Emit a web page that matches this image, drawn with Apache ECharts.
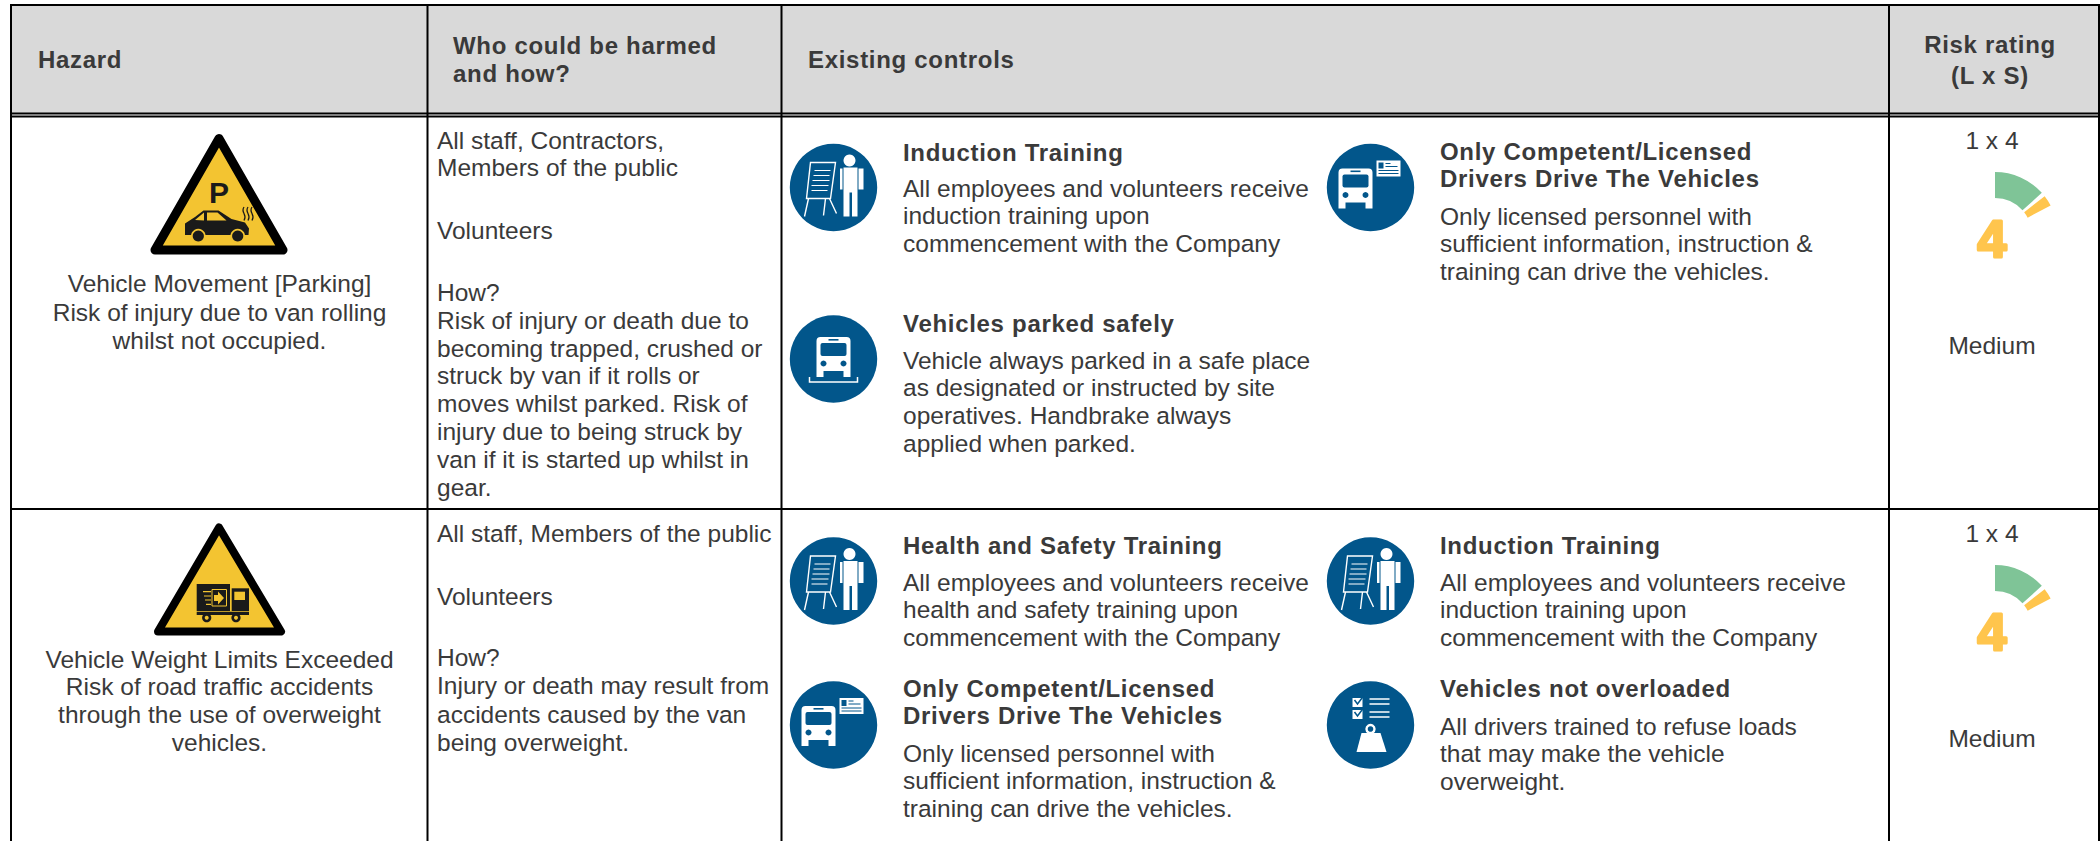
<!DOCTYPE html>
<html>
<head>
<meta charset="utf-8">
<title>Risk assessment</title>
<script src="https://cdn.jsdelivr.net/npm/echarts@6/dist/echarts.min.js"></script>
<style>
html, body { margin: 0; background: #fff; }
#chart { width: 2100px; height: 841px; }
/* zrender has no letter spacing option, headings in the original are spaced out */
#chart svg text { stroke-linejoin: round; }
#chart svg text[style*="bold 24px"] { letter-spacing: 0.7px; }
</style>
</head>
<body>
<div id="chart"></div>
<script>
const headerCells = [
  { lines: ['Hazard'], x: 38, ys: [59] },
  { lines: ['Who could be harmed', 'and how?'], x: 453, ys: [45, 73] },
  { lines: ['Existing controls'], x: 808, ys: [59] },
  { lines: ['Risk rating', '(L x S)'], x: 1990, ys: [44, 75], center: true }
]
const hazardText = [
  ['Vehicle Movement [Parking]', 'Risk of injury due to van rolling', 'whilst not occupied.'],
  ['Vehicle Weight Limits Exceeded', 'Risk of road traffic accidents', 'through the use of overweight', 'vehicles.']
]
const hazardTextY = [[283, 312, 340], [659, 686, 714, 742]]
const whoText = [
  ['All staff, Contractors,', 'Members of the public', 'Volunteers', 'How?', 'Risk of injury or death due to', 'becoming trapped, crushed or', 'struck by van if it rolls or', 'moves whilst parked. Risk of', 'injury due to being struck by', 'van if it is started up whilst in', 'gear.'],
  ['All staff, Members of the public', 'Volunteers', 'How?', 'Injury or death may result from', 'accidents caused by the van', 'being overweight.']
]
const whoTextY = [
  [140, 167, 230, 292, 320, 348, 375, 403, 431, 459, 487],
  [533, 596, 657, 685, 714, 742]
]
const controls = [
  { icon: 'training', col: 0, row: 187.5, head: ['Induction Training'], headY: 152, body: ['All employees and volunteers receive', 'induction training upon', 'commencement with the Company'], bodyY: 188 },
  { icon: 'licence', col: 1, row: 187.5, head: ['Only Competent/Licensed', 'Drivers Drive The Vehicles'], headY: 151, body: ['Only licensed personnel with', 'sufficient information, instruction &', 'training can drive the vehicles.'], bodyY: 216 },
  { icon: 'parked', col: 0, row: 359, head: ['Vehicles parked safely'], headY: 323, body: ['Vehicle always parked in a safe place', 'as designated or instructed by site', 'operatives. Handbrake always', 'applied when parked.'], bodyY: 360 },
  { icon: 'training', col: 0, row: 581, head: ['Health and Safety Training'], headY: 545, body: ['All employees and volunteers receive', 'health and safety training upon', 'commencement with the Company'], bodyY: 582 },
  { icon: 'training', col: 1, row: 581, head: ['Induction Training'], headY: 545, body: ['All employees and volunteers receive', 'induction training upon', 'commencement with the Company'], bodyY: 582 },
  { icon: 'licence', col: 0, row: 725, head: ['Only Competent/Licensed', 'Drivers Drive The Vehicles'], headY: 688, body: ['Only licensed personnel with', 'sufficient information, instruction &', 'training can drive the vehicles.'], bodyY: 753 },
  { icon: 'weight', col: 1, row: 725, head: ['Vehicles not overloaded'], headY: 688, body: ['All drivers trained to refuse loads', 'that may make the vehicle', 'overweight.'], bodyY: 726 }
]
const riskFormula = ['1 x 4', '1 x 4']
const riskLabel = ['Medium', 'Medium']
const riskScore = [4, 4]
// gauge bands, in degrees of sweep from 12 o'clock
const gaugeBandNames = ['Low', 'gap', 'Medium', 'rest']
const gaugeBandValues = [48, 4, 10, 298]
const gaugeBandColors = ['#7fc497', 'transparent', '#ffc54d', 'transparent']

const textColor = '#3a3a3a'
const blue = '#02568b'
const yellow = '#f3c431'
const fontFamily = '"Liberation Sans"'

function text(x, y, str, opts) {
  opts = opts || {}
  return {
    type: 'text', x: x, y: y, silent: true,
    style: {
      text: str,
      fill: textColor,
      font: (opts.bold ? 'bold 24px ' : '24.5px ') + fontFamily,
      textAlign: opts.center ? 'center' : 'left',
      textVerticalAlign: 'middle'
    }
  }
}
function rect(x, y, w, h, fill) {
  return { type: 'rect', silent: true, shape: { x: x, y: y, width: w, height: h }, style: { fill: fill } }
}
function dot(x, y, r, fill) {
  return { type: 'circle', silent: true, shape: { cx: x, cy: y, r: r }, style: { fill: fill } }
}
// graphic component has no plain path type, so each path gets registered as a shape
let pathCount = 0
function path(x, y, d, style) {
  const name = 'iconPath' + pathCount++
  echarts.graphic.registerShape(name, echarts.graphic.extendPath(d, {}))
  return { type: name, silent: true, x: x, y: y, style: style }
}

function busShape(x, y) {
  const els = []
  els.push(path(x, y, 'M-17 -18Q-17 -22 -13 -22H13Q17 -22 17 -18V18H10V12H-10V18H-17Z', { fill: '#fff' }))
  els.push(path(x, y, 'M-11 -16H11Q13 -16 13 -14V-5Q13 -3 11 -3H-11Q-13 -3 -13 -5V-14Q-13 -16 -11 -16Z', { fill: blue }))
  els.push(rect(x - 5, y - 20, 10, 1.6, blue))
  els.push(dot(x - 10, y + 4.5, 3, blue))
  els.push(dot(x + 10, y + 4.5, 3, blue))
  return els
}

const icons = {
  training: function (x, y) {
    const thin = { stroke: '#fff', lineWidth: 1.4, fill: 'none' }
    return [
      dot(x + 16, y - 27, 6, '#fff'),
      path(x, y, 'M10 -20H24V29H18.5V5H16V29H10Z', { fill: '#fff' }),
      path(x, y, 'M6.5 -19H9V2H6.5ZM25 -19H30V2H25Z', { fill: '#fff' }),
      path(x, y, 'M-23 -25H2L-3 11H-27Z', thin),
      path(x, y, 'M-19 -17H-3M-20 -12H-4M-21 -7H-4M-22 -2H-5M-22 3H-6', { stroke: '#fff', lineWidth: 1, fill: 'none' }),
      path(x, y, 'M-25 11L-29 29M-8 11L-10 28M-4 11L3 26', thin)
    ]
  },
  parked: function (x, y) {
    return busShape(x, y).concat([
      path(x, y, 'M-24 18V23H24V18', { stroke: '#fff', lineWidth: 1.5, fill: 'none' })
    ])
  },
  licence: function (x, y) {
    return busShape(x - 15, y + 3).concat([
      rect(x + 6, y - 27, 24, 16, '#fff'),
      rect(x + 8, y - 25, 5, 6, blue),
      path(x, y, 'M15 -24H20M15 -21H27M8 -17H28M8 -14H28', { stroke: blue, lineWidth: 1, fill: 'none' })
    ])
  },
  weight: function (x, y) {
    const checks = 'M-16 -25L-13 -21L-7 -29M-16 -13L-13 -9L-7 -17'
    return [
      rect(x - 18, y - 27, 10, 9, '#fff'),
      rect(x - 18, y - 15, 10, 9, '#fff'),
      path(x, y, checks, { stroke: blue, lineWidth: 1.5, fill: 'none' }),
      path(x, y, 'M-1 -26H19M-1 -21H19M-1 -13H19M-1 -8H19', { stroke: '#fff', lineWidth: 1.3, fill: 'none' }),
      { type: 'circle', silent: true, shape: { cx: x, cy: y + 4, r: 4 }, style: { stroke: '#fff', lineWidth: 2.4, fill: 'none' } },
      path(x, y, 'M-9 8H10L16 27H-14Z', { fill: '#fff' })
    ]
  }
}

function carSign() {
  const ox = 130, oy = 120
  return [
    path(0, 0, 'M219 138.5L283 250H155Z', { fill: yellow, stroke: '#000', lineWidth: 9, lineJoin: 'round' }),
    { type: 'text', silent: true, x: 219, y: 192, style: { text: 'P', fill: '#1a1a1a', font: 'bold 30px ' + fontFamily, textAlign: 'center', textVerticalAlign: 'middle' } },
    path(ox, oy, 'M55 115V103.5L65 97L73.5 90.5H88.5L101.5 99L115 102.5L119 108.5L118.5 115Z', { fill: '#1a1a1a' }),
    path(ox, oy, 'M65 100L74 92.5V100.5ZM77 92.5H87.5L96.5 100.5H77Z', { fill: yellow }),
    dot(ox + 68.3, oy + 116, 7.3, yellow), dot(ox + 68.3, oy + 116, 5.6, '#1a1a1a'),
    dot(ox + 107.7, oy + 116, 7.3, yellow), dot(ox + 107.7, oy + 116, 5.6, '#1a1a1a'),
    path(ox, oy, 'M114 87Q112 90 114 93.5T114 100.5M118 87Q116 90 118 93.5T118 100.5M122 87Q120 90 122 93.5T122 100.5', { stroke: '#1a1a1a', lineWidth: 1.3, fill: 'none' })
  ]
}
function truckSign() {
  const ox = 130, oy = 510
  return [
    path(0, 0, 'M219 527.5L281 631.5H158Z', { fill: yellow, stroke: '#000', lineWidth: 8, lineJoin: 'round' }),
    rect(ox + 66.7, oy + 74, 33.3, 27, '#1a1a1a'),
    path(ox, oy, 'M82 79.5H96.5V96H82Z', { stroke: yellow, lineWidth: 1, fill: 'none' }),
    path(ox, oy, 'M84 85H88V81.5L94 88L88 94.5V91H84Z', { fill: yellow }),
    path(ox, oy, 'M73 81.7H81M74 86H81M75 90H81M76 94.3H81', { stroke: yellow, lineWidth: 1.2, fill: 'none' }),
    rect(ox + 101.7, oy + 78.3, 17.3, 22.7, '#1a1a1a'),
    rect(ox + 104.3, oy + 81.7, 10.7, 8.3, yellow),
    rect(ox + 66.7, oy + 101.7, 52.3, 3.3, '#1a1a1a'),
    dot(ox + 76.7, oy + 107.7, 4.6, '#1a1a1a'), dot(ox + 76.7, oy + 107.7, 2, yellow),
    dot(ox + 106, oy + 107.7, 4.6, '#1a1a1a'), dot(ox + 106, oy + 107.7, 2, yellow)
  ]
}

const elements = []
// header band and table rules
elements.push(rect(10, 5, 2089, 108, '#d9d9d9'))
elements.push(rect(10, 4, 2090, 2, '#000'))
elements.push(rect(10, 112.5, 2090, 2, '#000'))
elements.push(rect(10, 115.5, 2090, 2, '#000'))
elements.push(rect(10, 508, 2090, 2, '#000'))
;[10, 426.5, 780.5, 1888, 2098].forEach(function (x) {
  elements.push(rect(x, 4, 2, 837, '#000'))
})

headerCells.forEach(function (cell) {
  cell.lines.forEach(function (line, i) {
    elements.push(text(cell.x, cell.ys[i], line, { bold: true, center: cell.center }))
  })
})
hazardText.forEach(function (lines, r) {
  lines.forEach(function (line, i) {
    elements.push(text(219.5, hazardTextY[r][i], line, { center: true }))
  })
})
whoText.forEach(function (lines, r) {
  lines.forEach(function (line, i) {
    elements.push(text(437, whoTextY[r][i], line))
  })
})
Array.prototype.push.apply(elements, carSign())
Array.prototype.push.apply(elements, truckSign())

controls.forEach(function (c) {
  const cx = c.col ? 1370.5 : 833.5
  const tx = c.col ? 1440 : 903
  elements.push(dot(cx, c.row, 43.7, blue))
  Array.prototype.push.apply(elements, icons[c.icon](cx, c.row))
  c.head.forEach(function (line, i) {
    elements.push(text(tx, c.headY + i * 27, line, { bold: true }))
  })
  c.body.forEach(function (line, i) {
    elements.push(text(tx, c.bodyY + i * 27.7, line))
  })
})

riskFormula.forEach(function (str, r) {
  elements.push(text(1992, r ? 533 : 140, str, { center: true }))
  elements.push(text(1992, r ? 738 : 345.5, riskLabel[r], { center: true }))
})

const gaugeCenters = [[1995, 235], [1995, 628]]
const series = riskScore.map(function (score, r) {
  return {
    type: 'pie',
    silent: true,
    animation: false,
    center: gaugeCenters[r],
    radius: [37, 63],
    startAngle: 90,
    clockwise: true,
    label: { show: false },
    labelLine: { show: false },
    data: gaugeBandNames.map(function (name, i) {
      const item = { name: name, value: gaugeBandValues[i], itemStyle: { color: gaugeBandColors[i] } }
      if (name === 'Medium') {
        item.label = {
          show: true,
          position: 'center',
          formatter: String(score),
          offset: [-3, 4],
          color: gaugeBandColors[i],
          fontFamily: 'Liberation Sans',
          fontWeight: 'bold',
          fontSize: 52,
          textBorderColor: gaugeBandColors[i],
          textBorderWidth: 3
        }
      }
      return item
    })
  }
})

const chart = echarts.init(document.getElementById('chart'), null, { renderer: 'svg' })
chart.setOption({
  animation: false,
  backgroundColor: '#fff',
  graphic: { elements: elements },
  series: series
})
</script>
</body>
</html>
